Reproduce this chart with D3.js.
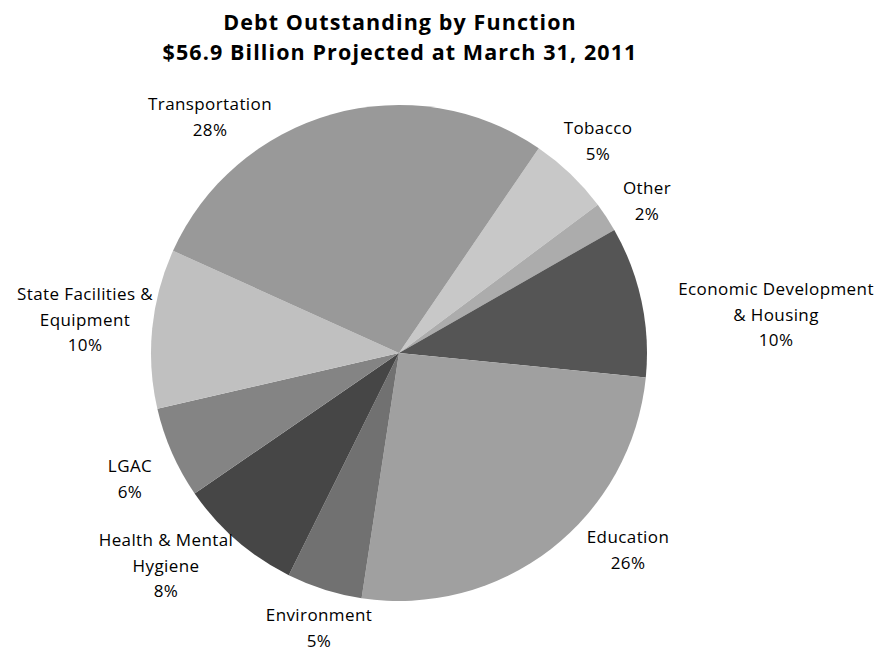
<!DOCTYPE html>
<html>
<head>
<meta charset="utf-8">
<script src="https://cdn.jsdelivr.net/npm/d3@7"></script>
<style>
  html, body { margin: 0; padding: 0; background: #fff; }
  svg { display: block; }
  text { font-family: "Open Sans", "Noto Sans", sans-serif; fill: #000; }
</style>
</head>
<body>
<svg id="chart" width="880" height="650"></svg>
<script>
// Debt outstanding by function, billions of dollars (total $56.9B)
const categories = [
  "Tobacco", "Other", "Economic Development & Housing", "Education",
  "Environment", "Health & Mental Hygiene", "LGAC",
  "State Facilities & Equipment", "Transportation"
];
const debtBillions = [3.0, 1.1, 5.6, 14.7, 2.8, 4.6, 3.4, 5.9, 15.8];
const sliceGreys = ["#c8c8c8", "#acacac", "#555555", "#a0a0a0", "#717171",
                    "#464646", "#848484", "#c0c0c0", "#999999"];
const labelLines = [
  ["Tobacco"], ["Other"], ["Economic Development", "& Housing"], ["Education"],
  ["Environment"], ["Health & Mental", "Hygiene"], ["LGAC"],
  ["State Facilities &", "Equipment"], ["Transportation"]
];
const titleLines = ["Debt Outstanding by Function", "$56.9 Billion Projected at March 31, 2011"];

const svg = d3.select("#chart");
const cx = 399, cy = 353, radius = 248;
const startDeg = 34.3;

const total = d3.sum(debtBillions);
const data = categories.map((c, i) => ({
  name: c, value: debtBillions[i], color: sliceGreys[i], lines: labelLines[i]
}));

const pie = d3.pie()
  .value(d => d.value)
  .sort(null)
  .startAngle(startDeg * Math.PI / 180)
  .endAngle((startDeg + 360) * Math.PI / 180);

const arc = d3.arc().innerRadius(0).outerRadius(radius);

const g = svg.append("g").attr("transform", `translate(${cx},${cy})`);
g.selectAll("path")
  .data(pie(data))
  .join("path")
  .attr("d", arc)
  .attr("fill", d => d.data.color);

// Title
svg.append("g").selectAll("text")
  .data(titleLines)
  .join("text")
  .attr("x", 400)
  .attr("y", (d, i) => 30 + i * 30)
  .attr("text-anchor", "middle")
  .attr("font-size", 21.5)
  .attr("font-weight", "bold")
  .attr("letter-spacing", 1.1)
  .text(d => d);

// Label anchors (centre x, first baseline) for each slice's data label
const labelAnchor = {
  "Tobacco": [598, 134],
  "Other": [647, 194],
  "Economic Development & Housing": [776, 295],
  "Education": [628, 543],
  "Environment": [319, 621],
  "Health & Mental Hygiene": [166, 546],
  "LGAC": [130, 472],
  "State Facilities & Equipment": [85, 300],
  "Transportation": [210, 110]
};
const lineGap = 25.5;
const pct = v => Math.round(v / total * 100) + "%";

const labels = svg.append("g").selectAll("g")
  .data(data)
  .join("g")
  .attr("transform", d => `translate(${labelAnchor[d.name][0]},${labelAnchor[d.name][1]})`);

labels.selectAll("text")
  .data(d => d.lines.concat([pct(d.value)]))
  .join("text")
  .attr("y", (d, i) => i * lineGap)
  .attr("text-anchor", "middle")
  .attr("font-size", 17)
  .attr("letter-spacing", 0.4)
  .text(d => d);
</script>
</body>
</html>
